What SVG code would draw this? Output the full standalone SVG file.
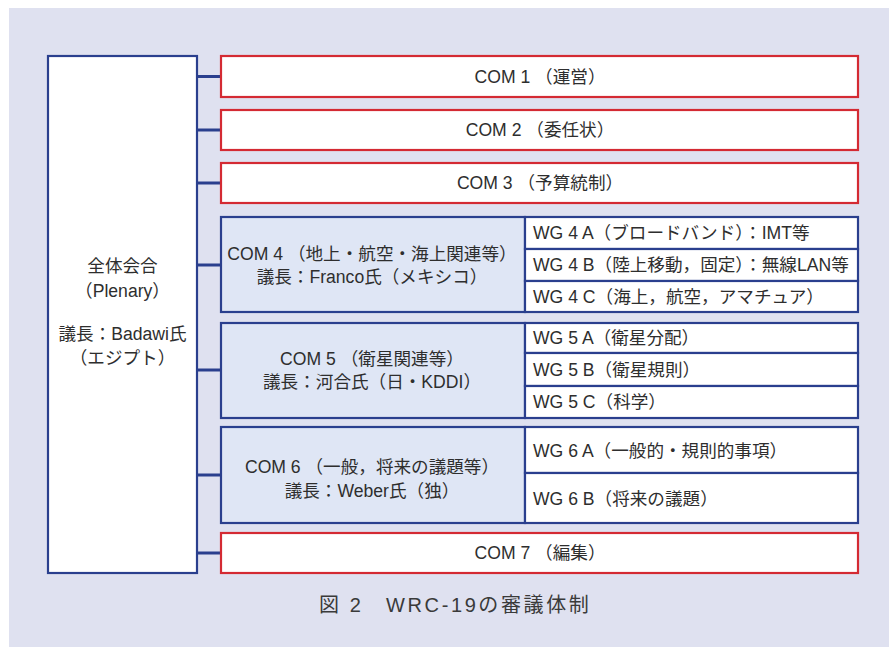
<svg xmlns="http://www.w3.org/2000/svg" width="889" height="647" viewBox="0 0 889 647">
<style>
.t{font-family:"Liberation Sans","Noto Sans CJK JP",sans-serif;font-size:17.6px;fill:#2e2e2e;}
.c{text-anchor:middle;}
.blue{fill:#fff;stroke:#2a3f8e;stroke-width:2.2;}
.blf{fill:#dfe6f5;stroke:#2a3f8e;stroke-width:2.2;}
.red{fill:#fff;stroke:#d42a33;stroke-width:2.2;}
.con{stroke:#2a3f8e;stroke-width:3;fill:none;}
</style>
<rect x="9" y="8" width="880" height="639" fill="#dfe1f0"/>
<g id="connectors">
<line class="con" x1="197" y1="76.5" x2="221" y2="76.5"/>
<line class="con" x1="197" y1="130" x2="221" y2="130"/>
<line class="con" x1="197" y1="183" x2="221" y2="183"/>
<line class="con" x1="197" y1="265" x2="221" y2="265"/>
<line class="con" x1="197" y1="370" x2="221" y2="370"/>
<line class="con" x1="197" y1="475" x2="221" y2="475"/>
<line class="con" x1="197" y1="553" x2="221" y2="553"/>
</g>
<g id="plenary">
<rect class="blue" x="48" y="56" width="149" height="517"/>
<text class="t c" x="122.5" y="272">全体会合</text>
<text class="t c" x="122.5" y="297">（Plenary）</text>
<text class="t c" x="122.5" y="340">議長：Badawi氏</text>
<text class="t c" x="122.5" y="364">（エジプト）</text>
</g>
<g id="com1">
<rect class="red" x="221" y="56" width="637" height="41"/>
<text class="t c" x="540" y="82.5">COM 1 （運営）</text>
</g>
<g id="com2">
<rect class="red" x="221" y="110" width="637" height="40"/>
<text class="t c" x="540" y="136">COM 2 （委任状）</text>
</g>
<g id="com3">
<rect class="red" x="221" y="163" width="637" height="40"/>
<text class="t c" x="540" y="189">COM 3 （予算統制）</text>
</g>
<g id="com4">
<rect class="blf" x="221" y="217" width="304" height="95"/>
<text class="t c" x="372" y="260">COM 4 （地上・航空・海上関連等）</text>
<text class="t c" x="372" y="283">議長：Franco氏（メキシコ）</text>
</g>
<g id="wg4a">
<rect class="blue" x="525" y="217" width="333" height="32"/>
<text class="t" x="533" y="239">WG 4 A（ブロードバンド）：IMT等</text>
</g>
<g id="wg4b">
<rect class="blue" x="525" y="249" width="333" height="32"/>
<text class="t" x="533" y="271">WG 4 B（陸上移動，固定）：無線LAN等</text>
</g>
<g id="wg4c">
<rect class="blue" x="525" y="281" width="333" height="31"/>
<text class="t" x="533" y="303">WG 4 C（海上，航空，アマチュア）</text>
</g>
<g id="com5">
<rect class="blf" x="221" y="323" width="304" height="95"/>
<text class="t c" x="372" y="365">COM 5 （衛星関連等）</text>
<text class="t c" x="372" y="388">議長：河合氏（日・KDDI）</text>
</g>
<g id="wg5a">
<rect class="blue" x="525" y="323" width="333" height="30"/>
<text class="t" x="533" y="344">WG 5 A（衛星分配）</text>
</g>
<g id="wg5b">
<rect class="blue" x="525" y="353" width="333" height="33"/>
<text class="t" x="533" y="376">WG 5 B（衛星規則）</text>
</g>
<g id="wg5c">
<rect class="blue" x="525" y="386" width="333" height="32"/>
<text class="t" x="533" y="408">WG 5 C（科学）</text>
</g>
<g id="com6">
<rect class="blf" x="221" y="427" width="304" height="96"/>
<text class="t c" x="372" y="473">COM 6 （一般，将来の議題等）</text>
<text class="t c" x="372" y="497">議長：Weber氏（独）</text>
</g>
<g id="wg6a">
<rect class="blue" x="525" y="427" width="333" height="46"/>
<text class="t" x="533" y="457">WG 6 A（一般的・規則的事項）</text>
</g>
<g id="wg6b">
<rect class="blue" x="525" y="473" width="333" height="50"/>
<text class="t" x="533" y="505">WG 6 B（将来の議題）</text>
</g>
<g id="com7">
<rect class="red" x="221" y="533" width="637" height="40"/>
<text class="t c" x="540" y="559">COM 7 （編集）</text>
</g>
<text class="t" x="319" y="612" style="font-size:20px;letter-spacing:2.6px;fill:#3a3a3a">図 2　WRC-19の審議体制</text>
</svg>
